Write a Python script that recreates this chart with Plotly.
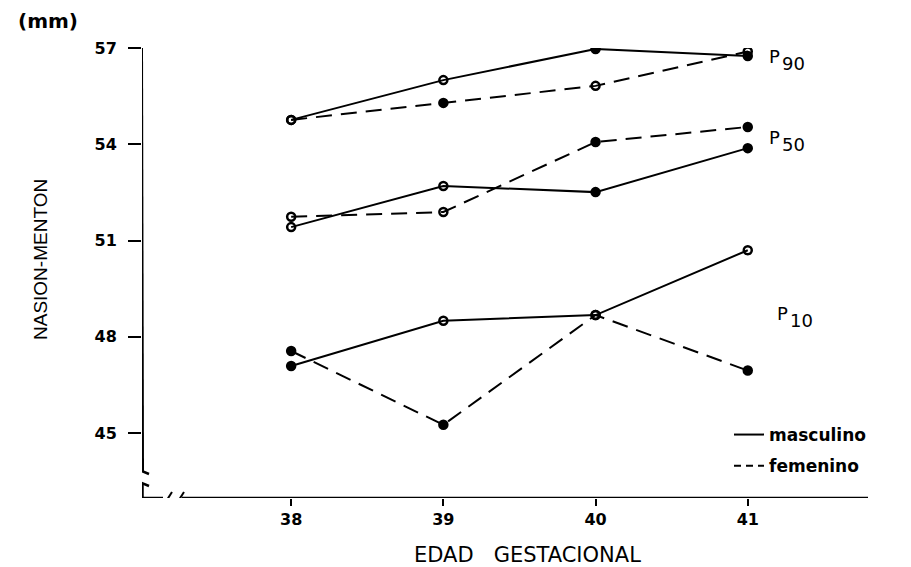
import plotly.graph_objects as go

# ---- data ----
weeks = [38, 39, 40, 41]
p90_masc = [54.76, 56.00, 56.97, 56.75]
p90_fem = [54.76, 55.29, 55.82, 56.89]
p50_masc = [51.42, 52.70, 52.51, 53.88]
p50_fem = [51.74, 51.89, 54.07, 54.54]
p10_masc = [47.09, 48.50, 48.68, 50.70]
p10_fem = [47.56, 45.26, 48.68, 46.95]
y_ticks = [45, 48, 51, 54, 57]
x_ticks = [38, 39, 40, 41]
percentile_labels = ["90", "50", "10"]

# ---- layout geometry ----
W, H = 911, 567
L, R, T, B = 142, 43, 48, 69
X0, X1 = 37.02, 41.79
Y0, Y1 = 42.98, 57.0
PW, PH = W - L - R, H - T - B


def px(xp, yp):
    return (X0 + (xp - L) / PW * (X1 - X0), Y1 - (yp - T) / PH * (Y1 - Y0))


FONT = "DejaVu Sans"
fig = go.Figure()

O, F = "circle-open", "circle"
series = [
    (p90_masc, "solid", [O, O, F, F], "masculino"),
    (p90_fem, "16px,9px", [O, F, O, O], "femenino"),
    (p50_masc, "solid", [O, O, F, F], "masculino"),
    (p50_fem, "16px,9px", [O, O, F, F], "femenino"),
    (p10_masc, "solid", [F, O, O, O], "masculino"),
    (p10_fem, "16px,9px", [F, F, O, F], "femenino"),
]
for vals, dash, syms, grp in series:
    fig.add_trace(go.Scatter(
        x=weeks, y=vals, mode="lines+markers",
        line=dict(color="black", width=2, dash=dash),
        marker=dict(color="black", size=8, symbol=syms, line=dict(color="black", width=2.5)),
        showlegend=False, legendgroup=grp, hoverinfo="skip",
    ))

# legend entries
fig.add_trace(go.Scatter(x=[None], y=[None], mode="lines", name="masculino",
                         legendgroup="masculino",
                         line=dict(color="black", width=2, dash="solid")))
fig.add_trace(go.Scatter(x=[None], y=[None], mode="lines", name="femenino",
                         legendgroup="femenino",
                         line=dict(color="black", width=2, dash="7px,5px")))


# axis lines with breaks (decoration)
def seg(a, b, w):
    (xa, ya), (xb, yb) = px(*a), px(*b)
    fig.add_shape(type="line", xref="x", yref="y", x0=xa, y0=ya, x1=xb, y1=yb,
                  line=dict(color="black", width=w), layer="above")


seg((141, 47), (142, 472), 4)
seg((134, 468), (149, 474), 2.5)
seg((134, 480), (149, 486), 2.5)
seg((142, 484), (142, 498), 3.5)
seg((140, 498), (163, 498), 2.5)
seg((165, 503), (172, 492), 2)
seg((177, 503), (184, 492), 2)
seg((182, 498), (868, 498), 2.5)

# percentile labels: "P" with large subscript digits
p_pos = [(767, 56), (767, 137), (775, 313)]
for lab, (xp, yp) in zip(percentile_labels, p_pos):
    lx, ly = px(xp, yp)
    fig.add_annotation(x=lx, y=ly, xref="x", yref="y", xanchor="left", yanchor="middle",
                       text="P", showarrow=False,
                       font=dict(family=FONT, size=18, color="black"))
    dx, dy = px(xp + 13, yp + 7)
    fig.add_annotation(x=dx, y=dy, xref="x", yref="y", xanchor="left", yanchor="middle",
                       text=lab, showarrow=False,
                       font=dict(family=FONT, size=18, color="black"))

fig.add_annotation(x=(48 - L) / PW, y=(H - B - 21) / PH, xref="paper", yref="paper",
                   text="(mm)", showarrow=False, xanchor="center", yanchor="middle",
                   font=dict(family=FONT, size=20, color="black", weight="bold"))
fig.add_annotation(x=(40 - L) / PW, y=(H - B - 260) / PH, xref="paper", yref="paper",
                   text="NASION-MENTON", textangle=-90, showarrow=False,
                   xanchor="center", yanchor="middle",
                   font=dict(family="Liberation Sans", size=19, color="black"))
fig.add_annotation(x=(527 - L) / PW, y=(H - B - 555) / PH, xref="paper", yref="paper",
                   text="EDAD\u00a0\u00a0\u00a0GESTACIONAL", showarrow=False,
                   xanchor="center", yanchor="middle",
                   font=dict(family=FONT, size=21, color="black"))

fig.update_layout(
    width=W, height=H, margin=dict(l=L, r=R, t=T, b=B),
    paper_bgcolor="white", plot_bgcolor="white",
    showlegend=True,
    legend=dict(x=(729 - L) / PW, y=(H - B - 417) / PH, xanchor="left", yanchor="top",
                bgcolor="rgba(0,0,0,0)",
                font=dict(family=FONT, size=17, color="black", weight="bold"),
                itemwidth=30, tracegroupgap=6, traceorder="grouped"),
    xaxis=dict(range=[X0, X1], tickvals=x_ticks, ticktext=[str(v) for v in x_ticks],
               showgrid=False, zeroline=False, showline=False, ticks="outside",
               ticklen=7, tickwidth=1.5, tickcolor="black",
               tickfont=dict(family=FONT, size=16, color="black", weight="bold")),
    yaxis=dict(range=[Y0, Y1], tickvals=y_ticks, ticktext=[str(v) for v in y_ticks],
               showgrid=False, zeroline=False, showline=False, ticks="outside",
               ticklen=13, tickwidth=2, tickcolor="black", ticklabelstandoff=8,
               tickfont=dict(family=FONT, size=16, color="black", weight="bold")),
)

fig.write_html("out.html")
